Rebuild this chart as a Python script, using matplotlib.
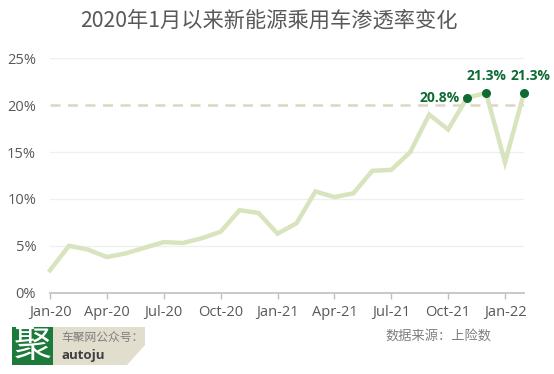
import matplotlib
matplotlib.use("Agg")
import matplotlib.pyplot as plt
from matplotlib.patches import Rectangle, Polygon

plt.rcParams['font.family'] = ['Open Sans', 'Noto Sans CJK SC', 'DejaVu Sans']

months = ["Jan-20", "Feb-20", "Mar-20", "Apr-20", "May-20", "Jun-20", "Jul-20", "Aug-20",
          "Sep-20", "Oct-20", "Nov-20", "Dec-20", "Jan-21", "Feb-21", "Mar-21", "Apr-21",
          "May-21", "Jun-21", "Jul-21", "Aug-21", "Sep-21", "Oct-21", "Nov-21", "Dec-21",
          "Jan-22", "Feb-22"]
penetration = [2.4, 5.0, 4.6, 3.8, 4.2, 4.8, 5.4, 5.3, 5.8, 6.5, 8.8, 8.5,
               6.3, 7.4, 10.8, 10.2, 10.6, 13.0, 13.1, 15.0, 19.0, 17.4, 20.8, 21.3,
               13.9, 21.3]
highlight_idx = [22, 23, 25]
tick_labels = ["Jan-20", "Apr-20", "Jul-20", "Oct-20", "Jan-21", "Apr-21", "Jul-21", "Oct-21", "Jan-22"]
yticks = [0, 5, 10, 15, 20, 25]
ref_level = 20

title = "2020年1月以来新能源乘用车渗透率变化"
source = "数据来源：上险数"

fig = plt.figure(figsize=(5.54, 3.74), dpi=100)
ax = fig.add_axes([0.0903, 0.2174, 0.8555, 0.6267])

x = list(range(len(months)))
ax.set_xlim(0, len(months) - 1)
ax.set_ylim(0, 25)

for y in yticks:
    if y == 0:
        continue
    if y == ref_level:
        ax.axhline(y, color='#dcd6c2', lw=1.8, ls=(0, (4, 3)), zorder=1)
    else:
        ax.axhline(y, color='#efefef', lw=0.9, zorder=0)

ax.plot(x, penetration, color='#d7e4bd', lw=3.2, solid_joinstyle='miter', zorder=2, clip_on=False)

hx = [x[i] for i in highlight_idx]
hy = [penetration[i] for i in highlight_idx]
ax.scatter(hx, hy, s=30, color='#0f6b33', zorder=3, clip_on=False)
offsets = [(-5, 0, 'right', 'center'), (0, 7, 'center', 'bottom'), (5, 7, 'center', 'bottom')]
for xi, yi, (dx, dy, ha, va) in zip(hx, hy, offsets):
    ax.annotate(f"{yi:.1f}%", (xi, yi), xytext=(dx, dy), textcoords='offset points',
                ha=ha, va=va, fontsize=10, fontweight='bold', color='#0f6b33',
                annotation_clip=False)

ax.set_xticks(list(range(0, len(months), 3)))
ax.set_xticklabels(tick_labels)
ax.set_yticks(yticks)
ax.set_yticklabels([f"{v}%" for v in yticks])
ax.tick_params(axis='x', length=4, color='#bfbfbf', width=1, labelsize=10.5, labelcolor='#595959', pad=5)
ax.tick_params(axis='y', length=0, labelsize=10.5, labelcolor='#595959', pad=10)
for s in ['top', 'right', 'left']:
    ax.spines[s].set_visible(False)
ax.spines['bottom'].set_color('#c8c8c8')
ax.spines['bottom'].set_linewidth(1.4)

fig.text(0.486, 0.945, title, ha='center', va='center', fontsize=15.3, color='#595959',
         family=['Noto Sans CJK SC', 'DejaVu Sans'])
fig.text(0.887, 0.101, source, ha='right', va='center', fontsize=9.5, color='#7f7f7f',
         style='italic', family=['Noto Sans CJK SC', 'DejaVu Sans'])

# logo
W, H = 554, 374
fig.patches.append(Rectangle((12 / W, (H - 365) / H), 41 / W, 38 / H, transform=fig.transFigure,
                             facecolor='#1c7a3a', edgecolor='none'))
fig.patches.append(Polygon([(53 / W, (H - 327) / H), (145 / W, (H - 327) / H),
                            (145 / W, (H - 345) / H), (127 / W, (H - 365) / H),
                            (53 / W, (H - 365) / H)], closed=True, transform=fig.transFigure,
                           facecolor='#e2decd', edgecolor='none'))
fig.text(32.5 / W, (H - 346) / H, "聚", ha='center', va='center', fontsize=27, color='white',
         family=['Noto Sans CJK SC'])
fig.text(61 / W, (H - 337) / H, "车聚网公众号：", ha='left', va='center', fontsize=8.5,
         color='#7f7f7f', family=['Noto Sans CJK SC', 'DejaVu Sans'])
fig.text(61 / W, (H - 355) / H, "autoju", ha='left', va='center', fontsize=9.5,
         color='#404040', fontweight='bold')

fig.savefig("out.png", dpi=100, facecolor='white')
